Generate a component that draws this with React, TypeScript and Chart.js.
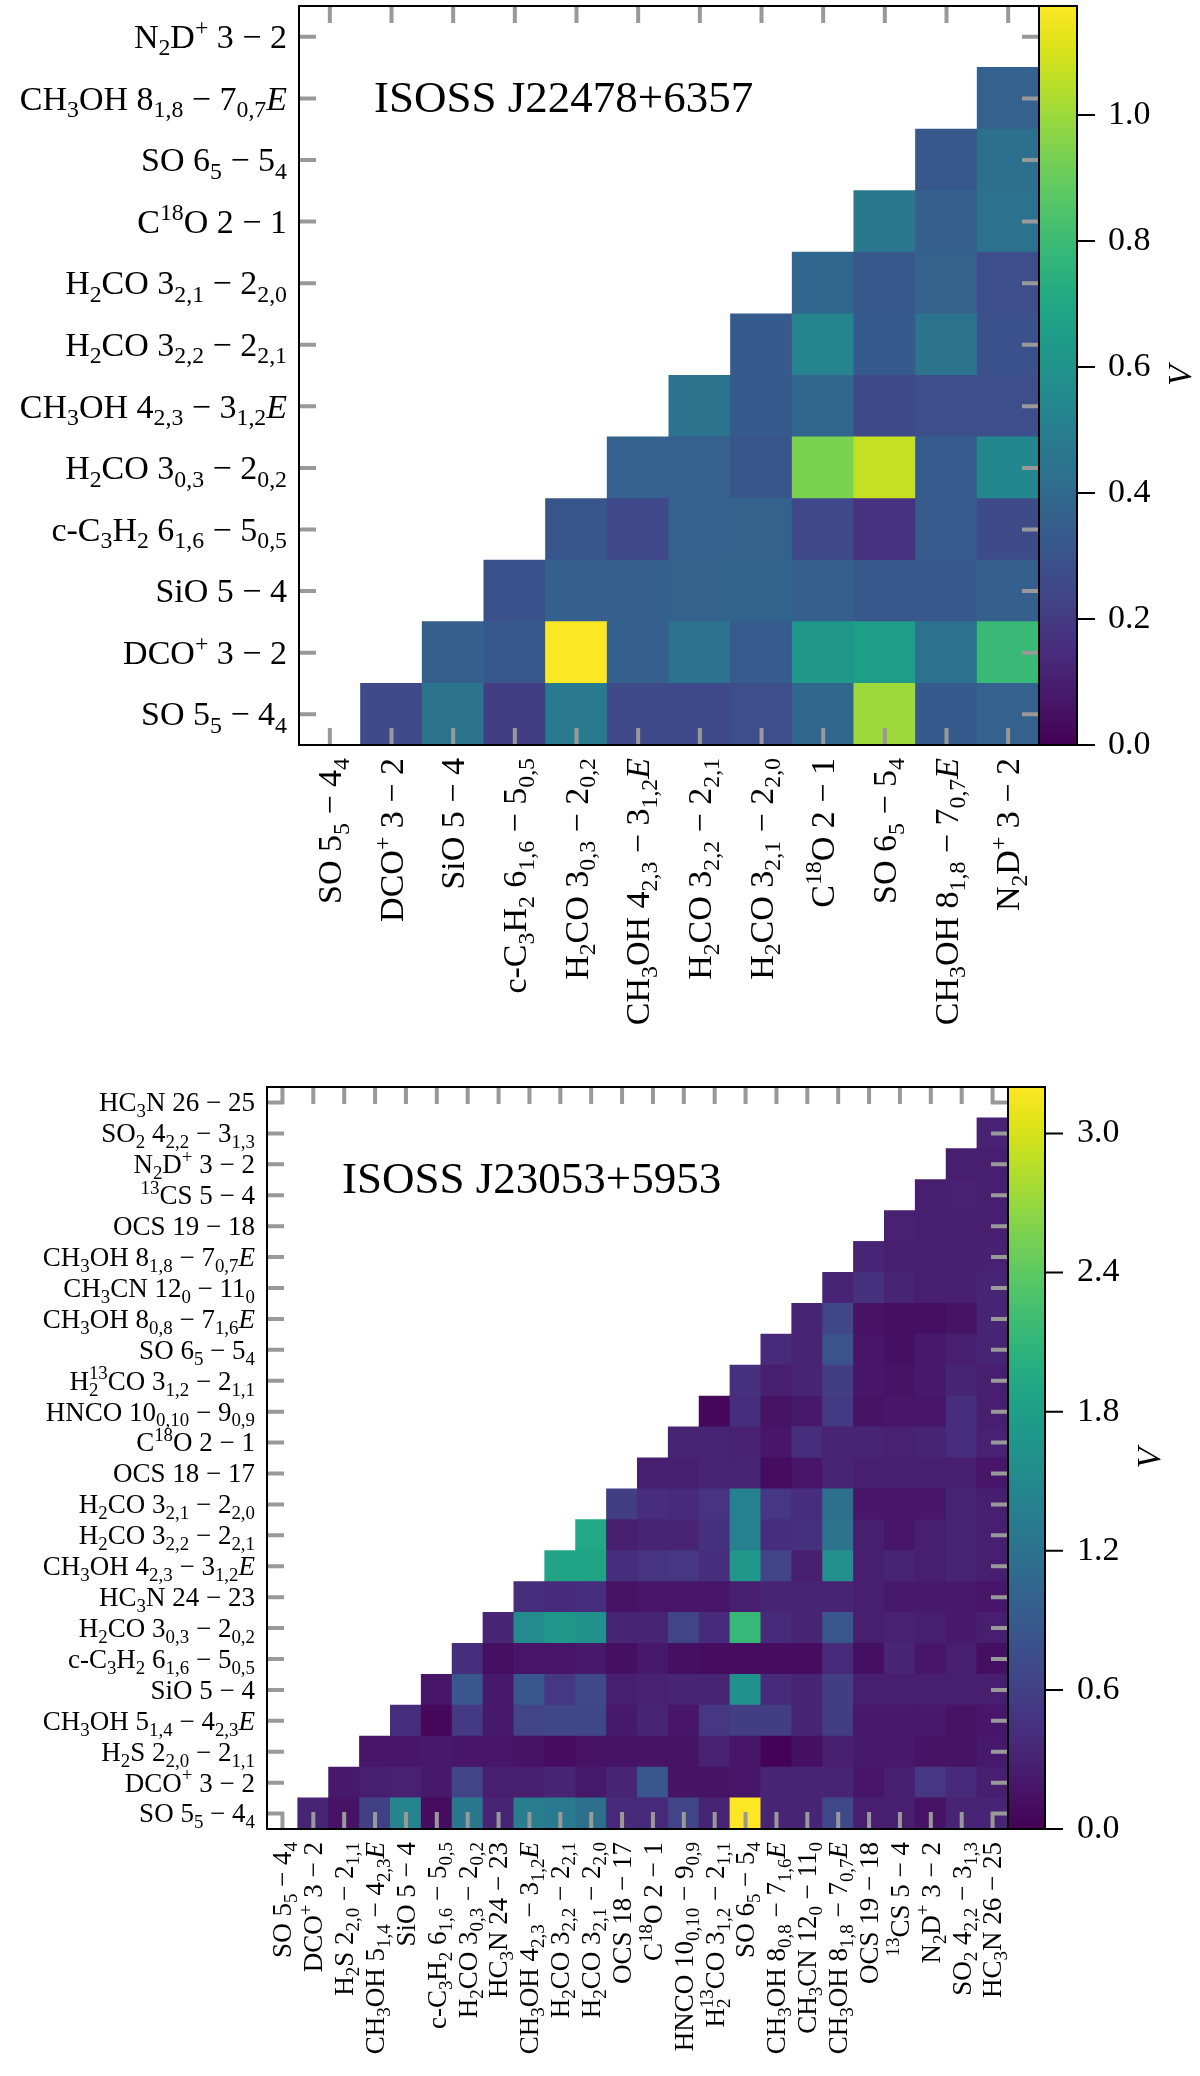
import { useEffect, useRef } from "react"
import { Chart, registerables } from "chart.js"

Chart.register(...registerables)

// label markup: _{..} subscript, ^{..} superscript, |E| italic
const labelsJ22478 = [
  "SO 5_{5} − 4_{4}",
  "DCO^{+} 3 − 2",
  "SiO 5 − 4",
  "c-C_{3}H_{2} 6_{1,6} − 5_{0,5}",
  "H_{2}CO 3_{0,3} − 2_{0,2}",
  "CH_{3}OH 4_{2,3} − 3_{1,2}|E|",
  "H_{2}CO 3_{2,2} − 2_{2,1}",
  "H_{2}CO 3_{2,1} − 2_{2,0}",
  "C^{18}O 2 − 1",
  "SO 6_{5} − 5_{4}",
  "CH_{3}OH 8_{1,8} − 7_{0,7}|E|",
  "N_{2}D^{+} 3 − 2",
]

const labelsJ23053 = [
  "SO 5_{5} − 4_{4}",
  "DCO^{+} 3 − 2",
  "H_{2}S 2_{2,0} − 2_{1,1}",
  "CH_{3}OH 5_{1,4} − 4_{2,3}|E|",
  "SiO 5 − 4",
  "c-C_{3}H_{2} 6_{1,6} − 5_{0,5}",
  "H_{2}CO 3_{0,3} − 2_{0,2}",
  "HC_{3}N 24 − 23",
  "CH_{3}OH 4_{2,3} − 3_{1,2}|E|",
  "H_{2}CO 3_{2,2} − 2_{2,1}",
  "H_{2}CO 3_{2,1} − 2_{2,0}",
  "OCS 18 − 17",
  "C^{18}O 2 − 1",
  "HNCO 10_{0,10} − 9_{0,9}",
  "H_{2}^{13}CO 3_{1,2} − 2_{1,1}",
  "SO 6_{5} − 5_{4}",
  "CH_{3}OH 8_{0,8} − 7_{1,6}|E|",
  "CH_{3}CN 12_{0} − 11_{0}",
  "CH_{3}OH 8_{1,8} − 7_{0,7}|E|",
  "OCS 19 − 18",
  "^{13}CS 5 − 4",
  "N_{2}D^{+} 3 − 2",
  "SO_{2} 4_{2,2} − 3_{1,3}",
  "HC_{3}N 26 − 25",
]

// row i holds the values of columns i+1 .. n-1
const valuesJ22478: number[][] = [
  [0.26, 0.45, 0.21, 0.48, 0.26, 0.26, 0.28, 0.39, 1.0, 0.33, 0.36],
  [0.35, 0.32, 1.17, 0.35, 0.44, 0.34, 0.62, 0.65, 0.44, 0.79],
  [0.29, 0.35, 0.35, 0.37, 0.38, 0.35, 0.32, 0.32, 0.35],
  [0.31, 0.25, 0.36, 0.37, 0.25, 0.17, 0.34, 0.27],
  [0.36, 0.36, 0.31, 0.94, 1.07, 0.34, 0.54],
  [0.45, 0.33, 0.39, 0.26, 0.28, 0.28],
  [0.33, 0.53, 0.33, 0.45, 0.29],
  [0.39, 0.32, 0.37, 0.28],
  [0.47, 0.35, 0.44],
  [0.32, 0.43],
  [0.36],
]

const valuesJ23053: number[][] = [
  [0.32, 0.16, 0.6, 1.44, 0.1, 1.28, 0.32, 1.34, 1.31, 1.18, 0.38, 0.38, 0.64, 0.32, 3.2, 0.32, 0.32, 0.7, 0.26, 0.26, 0.16, 0.32, 0.32],
  [0.22, 0.26, 0.29, 0.22, 0.64, 0.26, 0.26, 0.32, 0.22, 0.32, 0.86, 0.16, 0.16, 0.19, 0.32, 0.32, 0.32, 0.19, 0.26, 0.51, 0.38, 0.26],
  [0.19, 0.19, 0.22, 0.19, 0.19, 0.16, 0.1, 0.16, 0.16, 0.16, 0.16, 0.29, 0.19, 0.02, 0.13, 0.26, 0.22, 0.22, 0.16, 0.16, 0.22],
  [0.42, 0.06, 0.54, 0.22, 0.64, 0.67, 0.67, 0.22, 0.32, 0.19, 0.51, 0.58, 0.58, 0.32, 0.58, 0.22, 0.22, 0.22, 0.16, 0.19],
  [0.19, 0.86, 0.22, 0.86, 0.51, 0.7, 0.26, 0.29, 0.32, 0.32, 1.6, 0.38, 0.32, 0.58, 0.26, 0.26, 0.26, 0.26, 0.26],
  [0.42, 0.13, 0.19, 0.19, 0.22, 0.13, 0.22, 0.13, 0.1, 0.1, 0.1, 0.1, 0.38, 0.13, 0.32, 0.19, 0.26, 0.13],
  [0.32, 1.52, 1.7, 1.6, 0.32, 0.32, 0.64, 0.38, 2.14, 0.38, 0.32, 0.86, 0.26, 0.29, 0.26, 0.22, 0.26],
  [0.42, 0.38, 0.42, 0.16, 0.19, 0.19, 0.19, 0.26, 0.32, 0.32, 0.32, 0.26, 0.22, 0.22, 0.22, 0.19],
  [1.86, 1.86, 0.42, 0.48, 0.51, 0.42, 1.7, 0.64, 0.26, 1.57, 0.26, 0.32, 0.26, 0.32, 0.26],
  [1.92, 0.26, 0.32, 0.32, 0.45, 1.38, 0.42, 0.45, 1.22, 0.26, 0.19, 0.26, 0.32, 0.26],
  [0.58, 0.42, 0.38, 0.48, 1.38, 0.51, 0.42, 1.18, 0.19, 0.19, 0.19, 0.32, 0.26],
  [0.26, 0.26, 0.32, 0.32, 0.1, 0.19, 0.32, 0.26, 0.26, 0.26, 0.26, 0.19],
  [0.32, 0.32, 0.29, 0.19, 0.42, 0.32, 0.32, 0.29, 0.32, 0.42, 0.29],
  [0.06, 0.42, 0.16, 0.22, 0.54, 0.16, 0.19, 0.19, 0.42, 0.26],
  [0.45, 0.26, 0.32, 0.58, 0.19, 0.16, 0.22, 0.32, 0.26],
  [0.38, 0.32, 0.83, 0.19, 0.13, 0.22, 0.26, 0.32],
  [0.32, 0.67, 0.16, 0.13, 0.13, 0.16, 0.32],
  [0.32, 0.45, 0.32, 0.26, 0.26, 0.32],
  [0.32, 0.26, 0.26, 0.26, 0.29],
  [0.29, 0.26, 0.26, 0.26],
  [0.26, 0.29, 0.26],
  [0.26, 0.26],
  [0.29],
]

const cbTicksJ22478 = [0, 0.2, 0.4, 0.6, 0.8, 1.0]
const cbTicksJ23053 = [0, 0.6, 1.2, 1.8, 2.4, 3.0]
const vmaxJ22478 = 1.173
const vmaxJ23053 = 3.2

const FONT = '"Liberation Serif", "Times New Roman", serif'
const TICK = 17

const VIRIDIS = [
  [68, 1, 84], [71, 19, 101], [72, 36, 117], [70, 52, 128], [65, 68, 135],
  [59, 82, 139], [53, 95, 141], [47, 108, 142], [42, 120, 142], [37, 132, 142],
  [33, 145, 140], [30, 156, 137], [34, 168, 132], [47, 180, 124], [68, 191, 112],
  [94, 201, 98], [122, 209, 81], [155, 217, 60], [189, 223, 38], [223, 227, 24],
  [253, 231, 37],
]

function viridis(t: number) {
  const c = Math.min(1, Math.max(0, t)) * (VIRIDIS.length - 1)
  const k = Math.min(VIRIDIS.length - 2, Math.floor(c))
  const f = c - k
  const a = VIRIDIS[k], b = VIRIDIS[k + 1]
  const m = (i: number) => Math.round(a[i] + (b[i] - a[i]) * f)
  return `rgb(${m(0)},${m(1)},${m(2)})`
}

type Seg = { text: string; kind: number; italic: boolean }

function parseRich(s: string): Seg[] {
  const segs: Seg[] = []
  let buf = ""
  let italic = false
  const push = (text: string, kind: number, it: boolean) => {
    if (text) segs.push({ text, kind, italic: it })
  }
  let i = 0
  while (i < s.length) {
    const c = s[i]
    if ((c === "_" || c === "^") && s[i + 1] === "{") {
      push(buf, 0, italic)
      buf = ""
      const end = s.indexOf("}", i)
      push(s.slice(i + 2, end), c === "_" ? 1 : 2, false)
      i = end + 1
    } else if (c === "|") {
      push(buf, 0, italic)
      buf = ""
      italic = !italic
      i++
    } else {
      buf += c
      i++
    }
  }
  push(buf, 0, italic)
  return segs
}

function drawRich(ctx: CanvasRenderingContext2D, s: string, x: number, y: number, fs: number, align: string) {
  const items: any[] = []
  let pos = 0
  let prev: any = null
  for (const sg of parseRich(s)) {
    const size = sg.kind ? fs * 0.7 : fs
    const font = `${sg.italic ? "italic " : ""}${size}px ${FONT}`
    ctx.font = font
    const w = ctx.measureText(sg.text).width
    let sx = pos
    if (prev && prev.kind && sg.kind && prev.kind !== sg.kind) {
      sx = prev.x
      pos = Math.max(pos, sx + w)
    } else {
      pos = sx + w
    }
    const dy = sg.kind === 1 ? fs * 0.22 : sg.kind === 2 ? -fs * 0.38 : 0
    prev = { text: sg.text, kind: sg.kind, x: sx, dy, font }
    items.push(prev)
  }
  const x0 = align === "right" ? x - pos : align === "center" ? x - pos / 2 : x
  const base = y + fs * 0.33
  ctx.textAlign = "left"
  ctx.textBaseline = "alphabetic"
  ctx.fillStyle = "#000"
  for (const it of items) {
    ctx.font = it.font
    ctx.fillText(it.text, x0 + it.x, base + it.dy)
  }
}

const heatPlugin = {
  id: "heat",
  afterDatasetsDraw(chart: any, _args: any, opts: any) {
    const { ctx, chartArea: a } = chart
    const xs = chart.scales.x
    const ys = chart.scales.y
    const n = opts.labels.length
    ctx.save()
    ctx.strokeStyle = "#999999"
    ctx.lineWidth = 4
    ctx.beginPath()
    for (let i = 0; i < n; i++) {
      const py = ys.getPixelForValue(i)
      ctx.moveTo(a.left, py)
      ctx.lineTo(a.left + TICK, py)
      ctx.moveTo(a.right - TICK, py)
      ctx.lineTo(a.right, py)
      const px = xs.getPixelForValue(i)
      ctx.moveTo(px, a.bottom)
      ctx.lineTo(px, a.bottom - TICK)
      ctx.moveTo(px, a.top)
      ctx.lineTo(px, a.top + TICK)
    }
    ctx.stroke()
    ctx.strokeStyle = "#000"
    ctx.lineWidth = 2
    ctx.strokeRect(a.left, a.top, a.right - a.left, a.bottom - a.top)
    ctx.restore()
  },
  afterDraw(chart: any, _args: any, opts: any) {
    const { ctx, chartArea: a } = chart
    const xs = chart.scales.x
    const ys = chart.scales.y
    const cb = chart.scales.cb
    ctx.save()
    opts.labels.forEach((lab: string, i: number) => {
      drawRich(ctx, lab, a.left - 12, ys.getPixelForValue(i), opts.fontSize, "right")
      ctx.save()
      ctx.translate(xs.getPixelForValue(i), a.bottom + 13)
      ctx.rotate(-Math.PI / 2)
      drawRich(ctx, lab, 0, 0, opts.fontSize, "right")
      ctx.restore()
    })

    ctx.font = `45px ${FONT}`
    ctx.textAlign = "left"
    ctx.textBaseline = "alphabetic"
    ctx.fillStyle = "#000"
    ctx.fillText(opts.title, a.left + 75, a.top + 106)

    // colour bar
    const yTop = cb.getPixelForValue(opts.vmax)
    const yBot = cb.getPixelForValue(0)
    const x0 = a.right
    const w = opts.cbWidth
    const grad = ctx.createLinearGradient(0, yBot, 0, yTop)
    VIRIDIS.forEach((_c, k) => grad.addColorStop(k / (VIRIDIS.length - 1), viridis(k / (VIRIDIS.length - 1))))
    ctx.fillStyle = grad
    ctx.fillRect(x0, yTop, w, yBot - yTop)
    ctx.strokeStyle = "#000"
    ctx.lineWidth = 2
    ctx.strokeRect(x0, yTop, w, yBot - yTop)
    ctx.beginPath()
    cb.ticks.forEach((t: any) => {
      const py = cb.getPixelForValue(t.value)
      ctx.moveTo(x0 + w, py)
      ctx.lineTo(x0 + w + 18, py)
    })
    ctx.stroke()

    ctx.save()
    ctx.translate(x0 + 143, (a.top + a.bottom) / 2)
    ctx.rotate(-Math.PI / 2)
    ctx.font = `italic 34px ${FONT}`
    ctx.textAlign = "center"
    ctx.textBaseline = "middle"
    ctx.fillStyle = "#000"
    ctx.fillText("V", 0, 0)
    ctx.restore()
    ctx.restore()
  },
}

interface PanelProps {
  labels: string[]
  values: number[][]
  vmax: number
  cbTicks: number[]
  title: string
  fontSize: number
  top: number
  height: number
  padTop: number
  yWidth: number
  xHeight: number
  cbAxisWidth: number
  cbWidth: number
}

function HeatmapPanel(p: PanelProps) {
  const canvasRef = useRef<HTMLCanvasElement>(null)

  useEffect(() => {
    if (!canvasRef.current) return
    const n = p.labels.length
    const datasets = p.values.map((row, i) => ({
      label: p.labels[i],
      data: p.labels.map((_l, j) => (j > i ? [i - 0.5, i + 0.5] : null)),
      backgroundColor: p.labels.map((_l, j) => (j > i ? viridis(row[j - i - 1] / p.vmax) : "rgba(0,0,0,0)")),
      borderWidth: 0,
      grouped: false,
      barPercentage: 1,
      categoryPercentage: 1,
      inflateAmount: 0.5,
    }))

    const chart = new Chart(canvasRef.current, {
      type: "bar",
      data: { labels: p.labels, datasets } as any,
      options: {
        responsive: false,
        animation: false,
        events: [],
        layout: { padding: { top: p.padTop, left: 0, right: 0, bottom: 0 } },
        scales: {
          x: {
            type: "category",
            offset: true,
            grid: { display: false },
            border: { display: false },
            ticks: { display: false },
            afterFit: (s: any) => {
              s.height = p.xHeight
              s.paddingLeft = 0
              s.paddingRight = 0
            },
          },
          y: {
            type: "linear",
            min: -0.5,
            max: n - 0.5,
            grid: { display: false },
            border: { display: false },
            ticks: { display: false },
            afterFit: (s: any) => {
              s.width = p.yWidth
              s.paddingTop = 0
              s.paddingBottom = 0
            },
          },
          cb: {
            type: "linear",
            position: "right",
            min: 0,
            max: p.vmax,
            grid: { display: false, drawTicks: false },
            border: { display: false },
            afterBuildTicks: (s: any) => {
              s.ticks = p.cbTicks.map((v) => ({ value: v }))
            },
            ticks: {
              padding: 69,
              color: "#000",
              font: { family: FONT, size: 34 },
              callback: (v: any) => Number(v).toFixed(1),
            },
            afterFit: (s: any) => {
              s.width = p.cbAxisWidth
              s.paddingTop = 0
              s.paddingBottom = 0
            },
          },
        } as any,
        plugins: {
          legend: { display: false },
          tooltip: { enabled: false },
          heat: { labels: p.labels, title: p.title, fontSize: p.fontSize, vmax: p.vmax, cbWidth: p.cbWidth },
        } as any,
      },
      plugins: [heatPlugin as any],
    })

    return () => chart.destroy()
  }, [])

  return (
    <canvas
      ref={canvasRef}
      width={1200}
      height={p.height}
      style={{ position: "absolute", left: 0, top: p.top, width: 1200, height: p.height }}
    />
  )
}

export default function App() {
  return (
    <div style={{ position: "absolute", left: 0, top: 0, width: 1200, height: 2076, background: "#fff" }}>
      <HeatmapPanel
        labels={labelsJ22478}
        values={valuesJ22478}
        vmax={vmaxJ22478}
        cbTicks={cbTicksJ22478}
        title="ISOSS J22478+6357"
        fontSize={34}
        top={0}
        height={1060}
        padTop={6}
        yWidth={299}
        xHeight={315}
        cbAxisWidth={161}
        cbWidth={38}
      />
      <HeatmapPanel
        labels={labelsJ23053}
        values={valuesJ23053}
        vmax={vmaxJ23053}
        cbTicks={cbTicksJ23053}
        title="ISOSS J23053+5953"
        fontSize={27}
        top={1060}
        height={1016}
        padTop={27}
        yWidth={267}
        xHeight={247}
        cbAxisWidth={192}
        cbWidth={37}
      />
    </div>
  )
}
